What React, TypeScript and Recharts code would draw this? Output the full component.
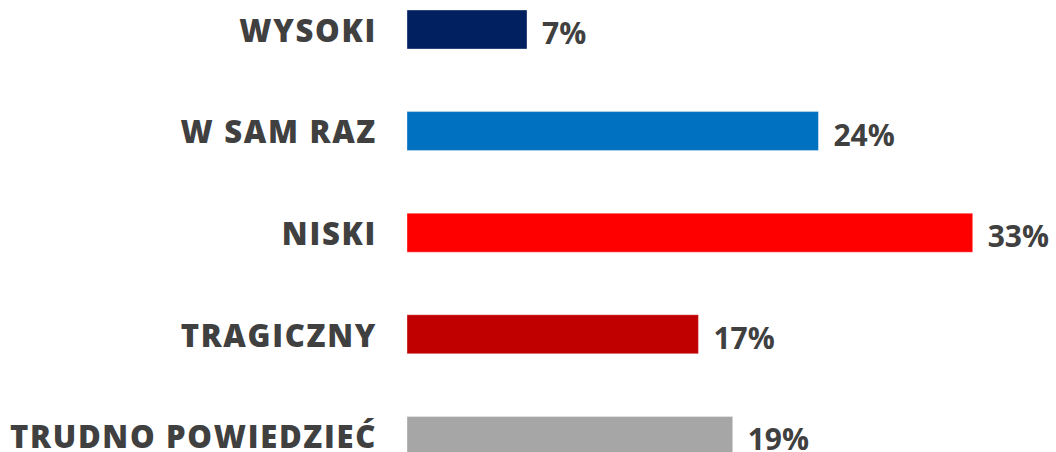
import { BarChart, Bar, XAxis, YAxis, Cell, LabelList } from "recharts";

const categories = ["WYSOKI", "W SAM RAZ", "NISKI", "TRAGICZNY", "TRUDNO POWIEDZIEĆ"];
const values = [7, 24, 33, 17, 19];
const colors = ["#002060", "#0070C0", "#FF0000", "#C00000", "#A6A6A6"];

const rows = categories.map((name, i) => ({ name, value: values[i] }));

const TEXT = "#404040";

const CatTick = (props: any) => {
  const { x, y, payload } = props;
  return (
    <text
      x={x}
      y={y}
      textAnchor="end"
      dominantBaseline="central"
      fill={TEXT}
      fontFamily="'Open Sans', sans-serif"
      fontWeight={800}
      fontSize={31}
      letterSpacing={1.7}
    >
      {payload.value}
    </text>
  );
};

const ValueLabel = (props: any) => {
  const { x, y, width, height, value } = props;
  return (
    <text
      x={x + width + 15}
      y={y + height / 2 + 3}
      dominantBaseline="central"
      fill={TEXT}
      fontFamily="'Open Sans', sans-serif"
      fontWeight={700}
      fontSize={30}
    >
      {value}%
    </text>
  );
};

export default function App() {
  return (
    <div
      style={{
        position: "fixed",
        top: 0,
        left: 0,
        width: 1056,
        height: 452,
        overflow: "hidden",
        background: "#fff",
      }}
    >
      <div style={{ marginTop: -21 }}>
        <BarChart
          layout="vertical"
          data={rows}
          width={1056}
          height={508}
          margin={{ top: 0, right: 49, left: 0, bottom: 0 }}
        >
          <XAxis type="number" hide domain={[0, 35]} />
          <YAxis
            type="category"
            dataKey="name"
            width={407}
            axisLine={false}
            tickLine={false}
            tickSize={0}
            tickMargin={30}
            tick={<CatTick />}
            interval={0}
          />
          <Bar
            dataKey="value"
            barSize={39}
            isAnimationActive={false}
            stroke="rgba(255,255,255,0.35)"
            strokeWidth={1}
          >
            {rows.map((r, i) => (
              <Cell key={r.name} fill={colors[i]} />
            ))}
            <LabelList dataKey="value" content={<ValueLabel />} />
          </Bar>
        </BarChart>
      </div>
    </div>
  );
}
